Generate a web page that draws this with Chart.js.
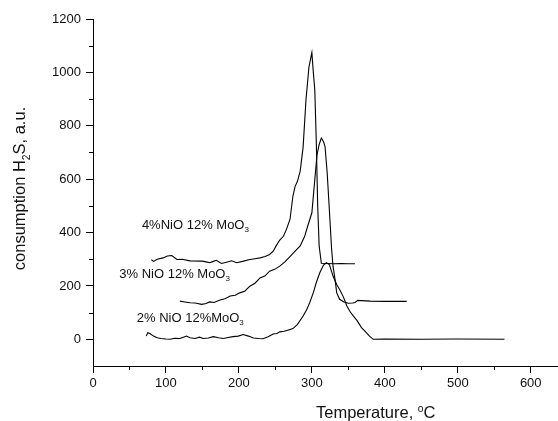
<!DOCTYPE html>
<html>
<head>
<meta charset="utf-8">
<script src="https://cdn.jsdelivr.net/npm/chart.js@4"></script>
<style>
  html, body { margin: 0; padding: 0; background: #fff; }
  #wrap { width: 558px; height: 421px; }
</style>
</head>
<body>
<div id="wrap"><canvas id="chart" width="558" height="421"></canvas></div>
<script>
// temperature (°C) and H2S consumption (a.u.)
const temp4 = [80, 83, 88, 96, 102, 108, 115, 122, 133, 150, 155, 160, 165, 169, 176, 183, 190, 197, 205, 215, 222, 229, 236, 242, 247, 251, 256, 261, 265, 270, 274, 277, 280, 284, 288, 292, 296, 300, 302, 304, 306, 308, 310, 313, 320, 330, 340, 350, 359];
const h2s4 = [298, 292, 300, 305, 312, 314, 299, 300, 294, 293, 290, 287, 292, 296, 284, 289, 294, 287, 292, 299, 302, 305, 310, 318, 330, 350, 372, 386, 411, 449, 536, 573, 590, 630, 720, 900, 1020, 1074, 1000, 935, 748, 498, 349, 285, 284, 283, 284, 283, 283];

const temp3 = [119, 126, 133, 140, 149, 155, 160, 166, 174, 181, 188, 195, 201, 208, 215, 222, 229, 236, 242, 249, 256, 263, 270, 277, 284, 290, 295, 300, 304, 307, 310, 313, 316, 318, 321, 323, 325, 327, 329, 332, 334, 338, 344, 350, 356, 359, 363, 380, 400, 430];
const h2s3 = [143, 140, 137, 136, 131, 134, 140, 138, 147, 152, 162, 165, 174, 180, 199, 210, 230, 238, 255, 262, 274, 290, 310, 330, 350, 385, 430, 474, 598, 690, 730, 754, 740, 723, 624, 530, 437, 340, 274, 220, 175, 150, 140, 135, 136, 138, 146, 143, 142, 142];

const temp2 = [73, 75, 78, 83, 88, 93, 100, 106, 112, 119, 124, 128, 133, 140, 146, 151, 158, 165, 172, 179, 185, 192, 199, 206, 213, 220, 227, 233, 240, 247, 252, 256, 262, 268, 274, 280, 288, 293, 297, 302, 306, 311, 316, 320, 324, 329, 334, 338, 343, 348, 352, 357, 362, 368, 373, 379, 384, 400, 450, 500, 564];
const h2s2 = [12, 25, 22, 12, 6, 3, 1, 0, 4, 3, 8, 12, 6, 3, 8, 3, 5, 10, 6, 3, 7, 10, 12, 18, 12, 5, 3, 2, 10, 20, 22, 28, 30, 35, 40, 55, 87, 112, 137, 175, 212, 250, 278, 287, 280, 237, 205, 187, 160, 125, 105, 87, 70, 44, 30, 12, 0, 1, 0, 1, 0];

// curve labels: text pieces ('n' normal, 'sub' subscript) and where they sit (data units)
const seriesLabels = [
  [['4%NiO 12% MoO', 'n'], ['3', 'sub']],
  [['3% NiO 12% MoO', 'n'], ['3', 'sub']],
  [['2% NiO 12%MoO', 'n'], ['3', 'sub']]
];
const labelTemp = [67, 36, 60];
const labelH2s = [426, 243, 78];

const xTitle = [['Temperature, ', 'n'], ['o', 'sup'], ['C', 'n']];
const yTitle = [['consumption H', 'n'], ['2', 'sub'], ['S, a.u.', 'n']];

const FONT = '"Liberation Sans", Arial, sans-serif';

function toPoints(xs, ys) {
  return xs.map((x, i) => ({ x: x, y: ys[i] }));
}

function drawRich(ctx, parts, x, y, size) {
  let cx = x;
  parts.forEach(([txt, kind]) => {
    let s = size, dy = 0;
    if (kind === 'sub') { s = size * 0.62; dy = size * 0.32; }
    if (kind === 'sup') { s = size * 0.62; dy = -size * 0.38; }
    ctx.font = s + 'px ' + FONT;
    ctx.fillText(txt, cx, y + dy);
    cx += ctx.measureText(txt).width;
  });
  return cx - x;
}

function richWidth(ctx, parts, size) {
  let w = 0;
  parts.forEach(([txt, kind]) => {
    const s = kind === 'n' ? size : size * 0.62;
    ctx.font = s + 'px ' + FONT;
    w += ctx.measureText(txt).width;
  });
  return w;
}

const extras = {
  id: 'extras',
  afterDraw(chart) {
    const ctx = chart.ctx;
    const xs = chart.scales.x, ys = chart.scales.y;
    ctx.save();
    ctx.strokeStyle = '#000';
    ctx.lineWidth = 1;
    // minor ticks
    ctx.beginPath();
    for (let v = 50; v < xs.max; v += 100) {
      const px = Math.round(xs.getPixelForValue(v)) + 0.5;
      ctx.moveTo(px, ys.bottom);
      ctx.lineTo(px, ys.bottom + 4);
    }
    for (let v = 100; v < ys.max; v += 200) {
      const py = Math.round(ys.getPixelForValue(v)) + 0.5;
      ctx.moveTo(xs.left, py);
      ctx.lineTo(xs.left - 4, py);
    }
    ctx.stroke();

    ctx.fillStyle = '#111';
    ctx.textBaseline = 'middle';
    ctx.textAlign = 'left';
    // curve labels
    seriesLabels.forEach((parts, i) => {
      drawRich(ctx, parts, xs.getPixelForValue(labelTemp[i]), ys.getPixelForValue(labelH2s[i]), 13);
    });

    // x title
    ctx.textBaseline = 'alphabetic';
    drawRich(ctx, xTitle, 316, 418, 16.5);

    // y title, rotated
    const w = richWidth(ctx, yTitle, 16.5);
    ctx.translate(25, (ys.top + ys.bottom) / 2 - 4);
    ctx.rotate(-Math.PI / 2);
    drawRich(ctx, yTitle, -w / 2, 0, 16.5);
    ctx.restore();
  }
};

const ds = (xs, ys) => ({
  data: toPoints(xs, ys),
  borderColor: '#000',
  borderWidth: 1.1,
  pointRadius: 0,
  tension: 0,
  fill: false
});

new Chart(document.getElementById('chart'), {
  type: 'line',
  data: {
    datasets: [ds(temp4, h2s4), ds(temp3, h2s3), ds(temp2, h2s2)]
  },
  options: {
    responsive: false,
    animation: false,
    layout: { padding: { top: 19, right: 1, left: 0, bottom: 0 } },
    plugins: { legend: { display: false }, tooltip: { enabled: false } },
    scales: {
      x: {
        type: 'linear',
        min: 0,
        max: 636,
        afterFit: (s) => { s.height = 55; },
        border: { color: '#000', width: 1 },
        grid: { drawOnChartArea: false, drawTicks: true, tickLength: 7, tickColor: '#000' },
        ticks: { stepSize: 100, includeBounds: false, padding: 3, color: '#111', font: { family: FONT, size: 13 }, maxRotation: 0, callback: (v) => String(v) }
      },
      y: {
        min: -100,
        max: 1200,
        afterFit: (s) => { s.width = 93; },
        border: { color: '#000', width: 1 },
        grid: { drawOnChartArea: false, drawTicks: true, tickLength: 7, tickColor: '#000' },
        ticks: { stepSize: 200, includeBounds: false, padding: 5, color: '#111', font: { family: FONT, size: 13 }, callback: (v) => String(v) }
      }
    }
  },
  plugins: [extras]
});
</script>
</body>
</html>
